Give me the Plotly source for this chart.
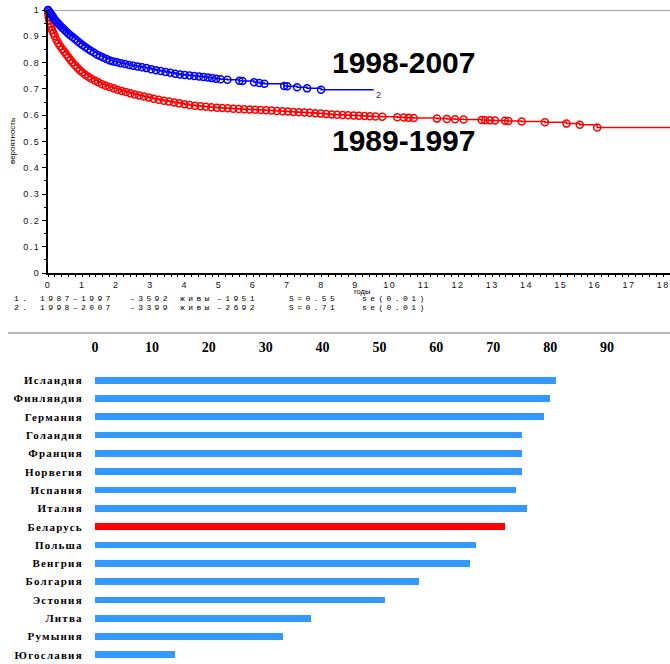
import plotly.graph_objects as go

W, H = 670, 664

# ---------------- data: survival curves ----------------
# group 2: 1998-2007 (blue)
t_2 = [0.00, 0.03, 0.06, 0.10, 0.14, 0.18, 0.22, 0.27, 0.32, 0.37, 0.42, 0.48,
       0.54, 0.60, 0.66, 0.73, 0.80, 0.87, 0.94, 1.01, 1.09, 1.17, 1.25, 1.34,
       1.43, 1.52, 1.61, 1.71, 1.81, 1.91, 2.02, 2.13, 2.25, 2.37, 2.49, 2.62,
       2.75, 2.88, 3.02, 3.16, 3.30, 3.44, 3.58, 3.72, 3.86, 4.00, 4.14, 4.28,
       4.42, 4.55, 4.68, 4.80, 4.92, 5.05, 5.25, 5.60, 5.69, 6.03, 6.18, 6.33,
       6.91, 7.00, 7.29, 7.58, 7.99]
s_2 = [1.000, 0.995, 0.990, 0.982, 0.975, 0.967, 0.960, 0.953, 0.946, 0.939, 0.932, 0.925,
       0.917, 0.910, 0.903, 0.896, 0.889, 0.881, 0.874, 0.867, 0.859, 0.852, 0.845, 0.838,
       0.831, 0.825, 0.819, 0.814, 0.808, 0.804, 0.801, 0.798, 0.795, 0.791, 0.788, 0.785,
       0.782, 0.779, 0.775, 0.771, 0.768, 0.764, 0.761, 0.758, 0.755, 0.753, 0.751, 0.749,
       0.747, 0.745, 0.743, 0.741, 0.739, 0.737, 0.735, 0.731, 0.730, 0.725, 0.722, 0.720,
       0.711, 0.710, 0.706, 0.702, 0.697]
t_2_end = 9.53

# group 1: 1989-1997 (red)
t_1 = [0.00, 0.01, 0.02, 0.04, 0.06, 0.09, 0.12, 0.16, 0.20, 0.25, 0.30, 0.36,
       0.42, 0.48, 0.54, 0.60, 0.66, 0.72, 0.79, 0.86, 0.93, 1.01, 1.09, 1.18,
       1.27, 1.37, 1.47, 1.58, 1.69, 1.80, 1.92, 2.04, 2.16, 2.28, 2.41, 2.54,
       2.67, 2.81, 2.95, 3.09, 3.24, 3.39, 3.54, 3.69, 3.84, 3.99, 4.14, 4.30,
       4.46, 4.62, 4.78, 4.94, 5.10, 5.26, 5.42, 5.58, 5.74, 5.90, 6.06, 6.22,
       6.38, 6.54, 6.70, 6.86, 7.02, 7.18, 7.34, 7.50, 7.66, 7.82, 7.98, 8.14,
       8.30, 8.46, 8.62, 8.78, 8.94, 9.10, 9.26, 9.42, 9.58, 9.78, 10.22, 10.41,
       10.55, 10.70, 11.38, 11.67, 11.91, 12.16, 12.69, 12.79, 12.93, 13.08, 13.37, 13.47,
       13.86, 14.54, 15.17, 15.56, 16.07]
s_1 = [1.000, 0.985, 0.972, 0.960, 0.948, 0.936, 0.924, 0.912, 0.900, 0.886, 0.874, 0.862,
       0.851, 0.841, 0.831, 0.820, 0.810, 0.800, 0.790, 0.780, 0.771, 0.762, 0.754, 0.746,
       0.739, 0.732, 0.725, 0.718, 0.712, 0.707, 0.702, 0.697, 0.692, 0.688, 0.683, 0.679,
       0.675, 0.671, 0.667, 0.663, 0.659, 0.655, 0.652, 0.648, 0.645, 0.642, 0.639, 0.636,
       0.634, 0.632, 0.630, 0.628, 0.627, 0.626, 0.625, 0.624, 0.623, 0.622, 0.621, 0.620,
       0.619, 0.618, 0.616, 0.615, 0.614, 0.612, 0.611, 0.610, 0.609, 0.607, 0.606, 0.605,
       0.603, 0.602, 0.601, 0.600, 0.599, 0.598, 0.597, 0.596, 0.595, 0.594, 0.592, 0.591,
       0.590, 0.589, 0.587, 0.586, 0.585, 0.584, 0.582, 0.581, 0.581, 0.580, 0.579, 0.578,
       0.576, 0.573, 0.568, 0.564, 0.553]
t_1_end = 18.2

x_ticks = list(range(0, 19))
y_ticks = [0, 0.1, 0.2, 0.3, 0.4, 0.5, 0.6, 0.7, 0.8, 0.9, 1]
y_tick_text = ["0", "0.1", "0.2", "0.3", "0.4", "0.5", "0.6", "0.7", "0.8", "0.9", "1"]

summary_1 = ["1.", "1987–1997", "–3592", "живы", "–1951", "S=0.55", "se(0.01)"]
summary_2 = ["2.", "1998–2007", "–3399", "живы", "–2692", "S=0.71", "se(0.01)"]

# ---------------- data: bar chart ----------------
countries = ["Исландия", "Финляндия", "Германия", "Голандия", "Франция", "Норвегия",
             "Испания", "Италия", "Беларусь", "Польша", "Венгрия", "Болгария",
             "Эстония", "Литва", "Румыния", "Югославия"]
values = [81, 80, 79, 75, 75, 75, 74, 76, 72, 67, 66, 57, 51, 38, 33, 14]
highlight = "Беларусь"
bar_ticks = [0, 10, 20, 30, 40, 50, 60, 70, 80, 90]

BLUE = "#0000ff"
RED = "#ff0000"
BAR_BLUE = "#3399ff"


def px(x):
    return x / W


def py(y):
    return 1 - y / H


fig = go.Figure()

for t, s, t_end, col in [(t_1, s_1, t_1_end, RED), (t_2, s_2, t_2_end, BLUE)]:
    fig.add_trace(go.Scatter(x=t + [t_end], y=s + [s[-1]], mode="lines",
                             line=dict(color=col, width=1.5, shape="hv"),
                             xaxis="x", yaxis="y", showlegend=False, hoverinfo="skip"))
    fig.add_trace(go.Scatter(x=t, y=s, mode="markers",
                             marker=dict(symbol="circle-open", size=7, color=col,
                                         line=dict(width=1.5, color=col)),
                             cliponaxis=False, xaxis="x", yaxis="y", showlegend=False))

bar_colors = [RED if c == highlight else BAR_BLUE for c in countries]
fig.add_trace(go.Bar(x=values, y=countries, orientation="h", width=0.37,
                     marker=dict(color=bar_colors, line=dict(width=0)),
                     xaxis="x2", yaxis="y2", showlegend=False))

sans = "Liberation Sans, Arial, sans-serif"
serif = "Liberation Serif, Times New Roman, serif"
mono = "Liberation Mono, Courier New, monospace"


def spaced(txt, sp):
    return f'<span style="letter-spacing:{sp}px">{txt}</span>'


fig.update_layout(
    width=W, height=H,
    margin=dict(l=0, r=0, t=0, b=0),
    paper_bgcolor="white", plot_bgcolor="white",
    bargap=0,
    xaxis=dict(domain=[px(48), 1], range=[0, 18.2], anchor="y",
               showline=True, linecolor="black", linewidth=2,
               ticks="outside", ticklen=2, tickcolor="black", tickwidth=1,
               tickvals=x_ticks, ticktext=[spaced(str(v), 1.5) for v in x_ticks],
               tickfont=dict(family=sans, size=9, color="#111"),
               minor=dict(dtick=0.2, ticks="outside", ticklen=2, tickcolor="black"),
               showgrid=False, zeroline=False, automargin=False),
    yaxis=dict(domain=[py(273), py(10)], range=[0, 1], anchor="x",
               showline=True, linecolor="black", linewidth=2,
               ticks="outside", ticklen=4, tickcolor="black", tickwidth=1,
               tickvals=y_ticks, ticktext=[spaced(v, 1.5) for v in y_tick_text],
               tickfont=dict(family=sans, size=9, color="#111"),
               minor=dict(dtick=0.05, ticks="outside", ticklen=2, tickcolor="black"),
               showgrid=False, zeroline=False, automargin=False),
    xaxis2=dict(domain=[px(95), 1], range=[0, 101.07], anchor="y2", side="top",
                showline=False, ticks="outside", ticklen=12, tickcolor="rgba(0,0,0,0)",
                tickvals=bar_ticks,
                tickfont=dict(family=serif, size=14, color="black", weight="bold"),
                showgrid=False, zeroline=False, automargin=False),
    yaxis2=dict(domain=[0, py(371)], type="category", range=[15.5, -0.5], anchor="x2",
                showline=False, ticks="outside", ticklen=9, tickcolor="rgba(0,0,0,0)",
                tickvals=countries, ticktext=[spaced(c, 1.2) for c in countries],
                tickfont=dict(family=serif, size=11, color="black", weight="bold"),
                showgrid=False, zeroline=False, automargin=False),
)

ann = []
ann.append(dict(x=px(403), y=py(62), text="1998-2007",
                font=dict(family=sans, size=30, color="black", weight="bold")))
ann.append(dict(x=px(403), y=py(141), text="1989-1997",
                font=dict(family=sans, size=30, color="black", weight="bold")))
ann.append(dict(x=px(378), y=py(95), text="2",
                font=dict(family=sans, size=9, color="#333")))
ann.append(dict(x=px(13), y=py(141), text="вероятность", textangle=-90,
                font=dict(family=sans, size=8, color="black")))
ann.append(dict(x=px(362), y=py(291.5), text="годы",
                font=dict(family=sans, size=7.5, color="black")))
token_x = [12, 38, 128, 178, 215, 287, 360]
for line_y, toks in [(298.8, summary_1), (307.0, summary_2)]:
    for xx, tk in zip(token_x, toks):
        ann.append(dict(x=px(xx), y=py(line_y), text=spaced(tk, 3.4), xanchor="left",
                        font=dict(family=mono, size=8, color="black")))
for a in ann:
    a.setdefault("xref", "paper")
    a.setdefault("yref", "paper")
    a.setdefault("xanchor", "center")
    a.setdefault("yanchor", "middle")
    a.setdefault("showarrow", False)
fig.update_layout(annotations=ann)

fig.update_layout(shapes=[
    dict(type="line", xref="x domain", yref="y", x0=0, x1=1, y0=1, y1=1,
         line=dict(color="#808080", width=1.5), layer="below"),
    dict(type="line", xref="paper", yref="paper", x0=px(8), x1=1, y0=py(333), y1=py(333),
         line=dict(color="#a0a0a0", width=1.5)),
])

fig.write_html("out.html", config={"displayModeBar": False},
               post_script="document.body.style.margin='0px';"
                           "document.body.style.overflow='hidden';")
